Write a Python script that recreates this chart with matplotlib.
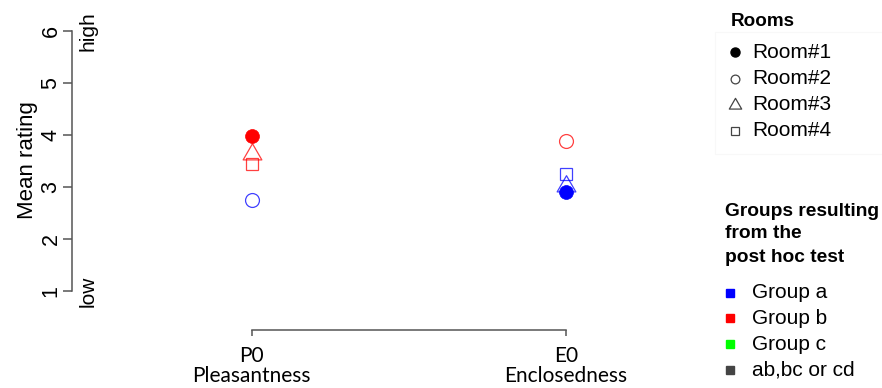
import matplotlib
matplotlib.use("Agg")
import matplotlib.pyplot as plt
from matplotlib.path import Path

# ---------------- data ----------------
categories = ["P0\nPleasantness", "E0\nEnclosedness"]
rooms = ["Room#1", "Room#2", "Room#3", "Room#4"]
room1 = [3.98, 2.90]
room2 = [2.75, 3.88]
room3 = [3.63, 3.02]
room4 = [3.44, 3.25]
room_groups = [["b", "a"], ["a", "b"], ["b", "a"], ["b", "a"]]
group_labels = ["Group a", "Group b", "Group c", "ab,bc or cd"]
group_keys = ["a", "b", "c", "other"]
y_ticks = [1, 2, 3, 4, 5, 6]

group_colors = {"a": "#0000FF", "b": "#FF0000", "c": "#00FF00", "other": "#444444"}

# R-like triangle (centred on centroid)
tri = Path([(0, 1.555), (-1.347, -0.778), (1.347, -0.778), (0, 1.555)],
           [Path.MOVETO, Path.LINETO, Path.LINETO, Path.CLOSEPOLY])

plt.rcParams['font.family'] = ['Liberation Sans', 'DejaVu Sans']

W, H = 882, 388
fig = plt.figure(figsize=(W / 100, H / 100), dpi=100)

ax_l, ax_r, ax_t, ax_b = 72, 700, 10, 330
ax = fig.add_axes([ax_l / W, (H - ax_b) / H, (ax_r - ax_l) / W, (ax_b - ax_t) / H])
ax.set_xlim(0.4277, 2.4277)
ax.set_ylim(0.25, 6.404)

xs = list(range(1, len(categories) + 1))
circ_ms = 10.0
series = [room2, room3, room4, room1]
styles = [("o", circ_ms, False), (tri, circ_ms * 1.555, False), ("s", 9.3, False), ("o", circ_ms, True)]
grp = [room_groups[1], room_groups[2], room_groups[3], room_groups[0]]
for vals, (mk, ms, filled), gs in zip(series, styles, grp):
    for x, v, g in zip(xs, vals, gs):
        c = group_colors[g]
        if filled:
            ax.plot([x], [v], marker=mk, ms=ms, mfc=c, mec=c, mew=0.5, ls="none", zorder=4)
        else:
            ax.plot([x], [v], marker=mk, ms=ms, mfc="none", mec=c, mew=0.9, alpha=0.75,
                    ls="none", zorder=3)

for s in ["top", "right"]:
    ax.spines[s].set_visible(False)
ax.spines["left"].set_bounds(1, 6)
ax.spines["bottom"].set_bounds(1, 2)
for s in ["left", "bottom"]:
    ax.spines[s].set_color("#555555")
    ax.spines[s].set_linewidth(1.1)

ax.set_yticks(y_ticks)
ax.set_yticklabels([str(t) for t in y_ticks], rotation=90, va="center", fontsize=15.5)
ax.tick_params(axis="y", direction="out", length=6.5, width=1.1, color="#555555", pad=1)
ax.set_xticks(xs)
ax.set_xticklabels(categories, fontsize=15, family=["Lato", "DejaVu Sans"])
for lbl in ax.get_xticklabels():
    lbl.set_linespacing(1.05)
ax.tick_params(axis="x", direction="out", length=4.3, width=1.1, color="#555555", pad=7)
ax.set_ylabel("Mean rating", fontsize=16, labelpad=2)
ax.yaxis.label.set_y((ax_b - 160) / (ax_b - ax_t))

ax.text(0.4277 + (88 - ax_l) / 314, 6, "high", rotation=90, ha="center", va="center", fontsize=15)
ax.text(0.4277 + (88 - ax_l) / 314, 1, "low", rotation=90, ha="center", va="center", fontsize=15)

# ---------------- legends (pixel overlay) ----------------
ov = fig.add_axes([0, 0, 1, 1], facecolor="none")
ov.set_xlim(0, W)
ov.set_ylim(H, 0)
ov.axis("off")

ov.add_patch(plt.Rectangle((715, 32), 170, 122, fill=False, ec="#f8f8f8", lw=0.8))
ov.text(731, 21, "Rooms", fontsize=13.6, fontweight="bold", va="center", ha="left")
leg_styles = [("o", 6.5, True), ("o", 6.3, False), (tri, 10.3, False), ("s", 6.0, False)]
leg_y = [52, 79, 105, 131]
for name, (mk, ms, filled), y in zip(rooms, leg_styles, leg_y):
    if filled:
        ov.plot([735], [y], marker=mk, ms=ms, mfc="black", mec="black", ls="none")
    else:
        ov.plot([735], [y], marker=mk, ms=ms, mfc="none", mec="#444444", mew=0.9, ls="none")
    ov.text(752, y, name, fontsize=15, va="center", ha="left")

for line, y in zip(["Groups resulting", "from the", "post hoc test"], [211, 234, 257]):
    ov.text(725, y, line, fontsize=13.8, fontweight="bold", va="center", ha="left")
gy = [293, 318, 344, 370]
for lab, key, y in zip(group_labels, group_keys, gy):
    ov.plot([730], [y], marker="s", ms=5.8, mfc=group_colors[key], mec=group_colors[key],
            ls="none")
    ov.text(752, y, lab, fontsize=15, va="center", ha="left")

fig.savefig("out.png", dpi=100)
